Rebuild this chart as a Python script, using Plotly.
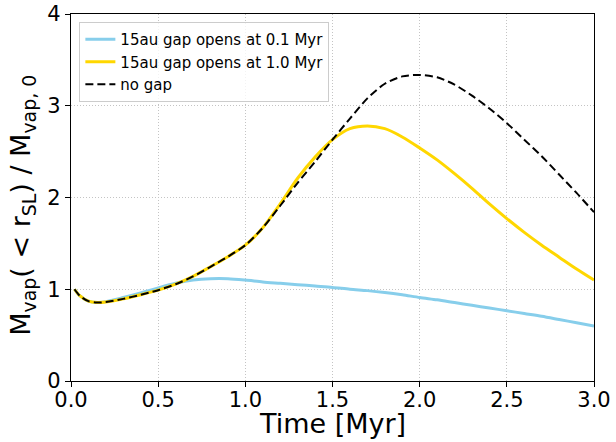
import plotly.graph_objects as go

# Time grid in Myr
time_myr = [0.02, 0.05, 0.1, 0.15, 0.2, 0.3, 0.4, 0.5, 0.6, 0.7, 0.8, 0.9, 1.0,
            1.1, 1.2, 1.3, 1.4, 1.5, 1.6, 1.7, 1.8, 1.9, 2.0, 2.1, 2.2, 2.3,
            2.4, 2.5, 2.6, 2.7, 2.8, 2.9, 3.0]

# Vapour mass inside the snow line, normalised to its initial value
gap_01myr = [1.00, 0.93, 0.87, 0.855, 0.865, 0.91, 0.96, 1.015, 1.065, 1.10,
             1.115, 1.115, 1.10, 1.08, 1.065, 1.05, 1.035, 1.02, 1.0, 0.985,
             0.965, 0.94, 0.91, 0.885, 0.855, 0.825, 0.795, 0.766, 0.735,
             0.705, 0.67, 0.635, 0.60]

gap_10myr = [1.00, 0.93, 0.87, 0.855, 0.86, 0.895, 0.94, 0.99, 1.055, 1.14,
             1.245, 1.355, 1.48, 1.67, 1.93, 2.21, 2.44, 2.63, 2.75, 2.78,
             2.75, 2.66, 2.54, 2.41, 2.26, 2.10, 1.93, 1.77, 1.62, 1.48,
             1.35, 1.22, 1.10]

no_gap = [1.00, 0.93, 0.87, 0.855, 0.86, 0.895, 0.94, 0.99, 1.055, 1.14,
          1.245, 1.355, 1.48, 1.67, 1.91, 2.16, 2.39, 2.63, 2.86, 3.08,
          3.24, 3.32, 3.335, 3.31, 3.23, 3.11, 2.97, 2.81, 2.63, 2.45,
          2.25, 2.05, 1.84]

series_names = ["15au gap opens at 0.1 Myr", "15au gap opens at 1.0 Myr", "no gap"]

x_ticks = [0.0, 0.5, 1.0, 1.5, 2.0, 2.5, 3.0]
y_ticks = [0, 1, 2, 3, 4]

x_title = "Time [Myr]"
y_title = "M<sub>vap</sub>( < r<sub>SL</sub>) / M<sub>vap, 0</sub>"

FONT = "DejaVu Sans, Verdana, sans-serif"

fig = go.Figure()
fig.add_trace(go.Scatter(x=time_myr, y=gap_01myr, mode="lines", name=series_names[0],
                         line=dict(color="#87CEEB", width=3, shape="spline", smoothing=0.8)))
fig.add_trace(go.Scatter(x=time_myr, y=gap_10myr, mode="lines", name=series_names[1],
                         line=dict(color="#FFD700", width=3, shape="spline", smoothing=0.8)))
fig.add_trace(go.Scatter(x=time_myr, y=no_gap, mode="lines", name=series_names[2],
                         line=dict(color="black", width=2, dash="8px,4px",
                                   shape="spline", smoothing=0.8)))

axis_common = dict(
    showline=True, linecolor="black", linewidth=1.2, mirror=True,
    ticks="outside", ticklen=5, tickwidth=1.2, tickcolor="black",
    showgrid=True, gridcolor="#c4c4c4", gridwidth=1, griddash="1px,2px",
    zeroline=False, automargin=False,
    tickfont=dict(family=FONT, size=21, color="black"),
)

fig.update_xaxes(range=[0, 3], tickvals=x_ticks, tickformat=".1f",
                 ticklabelstandoff=-5, **axis_common)
fig.update_yaxes(range=[0, 4], tickvals=y_ticks, **axis_common)

# Axis titles placed as annotations so the fixed margins stay untouched
fig.add_annotation(text=x_title, xref="paper", yref="paper", x=0.5, y=-0.163,
                   xanchor="center", yanchor="bottom", showarrow=False,
                   font=dict(family=FONT, size=27, color="black"))
fig.add_annotation(text=y_title, xref="paper", yref="paper", x=-0.092, y=0.48,
                   xanchor="center", yanchor="middle", showarrow=False, textangle=-90,
                   font=dict(family=FONT, size=27, color="black"))

fig.update_layout(
    width=616, height=442,
    margin=dict(l=71, r=22, t=14, b=61),
    paper_bgcolor="white", plot_bgcolor="white",
    font=dict(family=FONT, color="black"),
    showlegend=True,
    legend=dict(x=0.016, y=0.978, xanchor="left", yanchor="top",
                bgcolor="rgba(255,255,255,0.8)", bordercolor="#cccccc", borderwidth=1,
                font=dict(family=FONT, size=15, color="black"),
                tracegroupgap=0, itemwidth=30),
)

fig.write_html("out.html")
